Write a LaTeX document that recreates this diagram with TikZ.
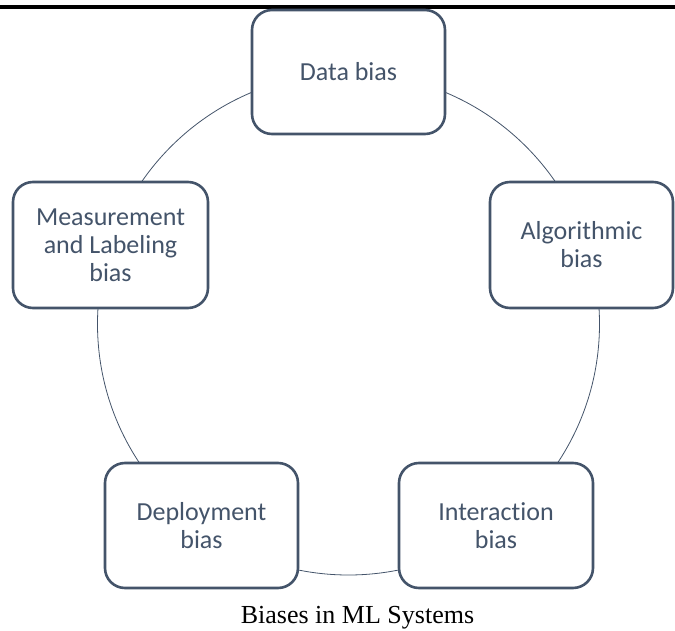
\documentclass[tikz,border=0pt]{standalone}
\usepackage{fontspec}
\setmainfont{Liberation Serif}
\newfontfamily\boxfont[Ligatures=NoCommon]{Carlito}
\definecolor{slate}{HTML}{44546A}
\begin{document}
\begin{tikzpicture}[x=1pt,y=-1pt,
  biasbox/.style={draw=slate, line width=2.6pt, fill=white, rounded corners=20pt,
    inner sep=0pt, align=center, text=slate,
    font=\boxfont\fontsize{26}{28}\selectfont},
  ring/.style={draw=slate, line width=0.8pt}]
\useasboundingbox (0,0) rectangle (675,631);
\draw[line width=4pt] (0,6.7) -- (675,6.7);
\coordinate (c) at (348.5,324);
\draw[ring] (c) circle[radius=251pt];
\node[biasbox, minimum width=193pt, minimum height=124pt] (data) at (348.5,72) {Data bias};
\node[biasbox, minimum width=195pt, minimum height=126pt] (meas) at (110.5,245) {Measurement\\and Labeling\\bias};
\node[biasbox, minimum width=183pt, minimum height=126pt] (algo) at (581.5,245) {Algorithmic\\bias};
\node[biasbox, minimum width=193pt, minimum height=125pt] (depl) at (201.5,525.5) {Deployment\\bias};
\node[biasbox, minimum width=194pt, minimum height=125pt] (inter) at (496,525.5) {Interaction\\bias};
\node[anchor=base, font=\fontsize{26}{30}\selectfont, inner sep=0pt] (cap) at (357.5,623) {Biases in ML Systems};
\end{tikzpicture}
\end{document}
